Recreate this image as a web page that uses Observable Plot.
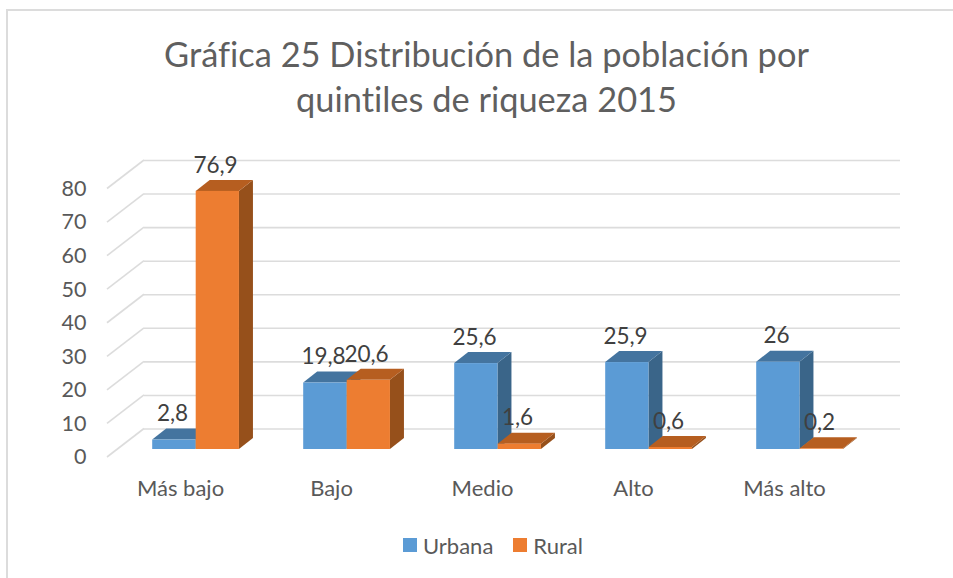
<!DOCTYPE html>
<html lang="es">
<head>
<meta charset="utf-8">
<script src="https://cdn.jsdelivr.net/npm/d3@7"></script>
<script src="https://cdn.jsdelivr.net/npm/@observablehq/plot@0.6"></script>
<style>
html,body{margin:0;padding:0;background:#fff;overflow:hidden;font-family:Lato,sans-serif;font-variant-ligatures:none}
#page{position:relative;width:953px;height:578px;overflow:hidden}
#frame{position:absolute;left:6px;top:9px;width:960px;height:580px;border-top:2px solid #dcdcdc;border-left:2px solid #dcdcdc}
#title{position:absolute;left:0;width:973px;top:31px;text-align:center;font-size:34.4px;line-height:45px;color:#5f5f5f}
#chart{position:absolute;left:0;top:130px}
#chart svg text{font-variant-ligatures:none}
#legend{position:absolute;left:403px;top:532px;display:flex;align-items:center;font-size:22px;color:#595959;height:26px}
#legend i{display:inline-block;width:14px;height:14px;margin-right:6px}
#legend span{margin-right:20px}
</style>
</head>
<body>
<div id="page">
  <div id="frame"></div>
  <div id="title">Gráfica 25 Distribución de la población por<br>quintiles de riqueza 2015</div>
  <div id="chart"></div>
  <div id="legend"><i style="background:#5B9BD5"></i><span>Urbana</span><i style="background:#ED7D31"></i><span>Rural</span></div>
</div>
<script>
const categories = ["Más bajo", "Bajo", "Medio", "Alto", "Más alto"];
const urbana = [2.8, 19.8, 25.6, 25.9, 26];
const rural = [76.9, 20.6, 1.6, 0.6, 0.2];
const yTicks = [0, 10, 20, 30, 40, 50, 60, 70, 80];

const rows = vals => vals.map((v, i) => ({cat: categories[i], v}));
const fmt = d => String(d.v).replace(".", ",");

// Depth of the 3D box drawn behind and above each bar's front face
const barDepth = {x: 14, y: -11};
const wallDepth = {x: 38, y: -28.5};
const plane = {dx: 11.2, dy: -8};
const gridColor = "#dcdcdc";
const svgNS = "http://www.w3.org/2000/svg";

function boxFaces(topColor, sideColor) {
  return function (index, scales, values, dims, ctx, next) {
    const g = next(index, scales, values, dims, ctx);
    for (const r of Array.from(g.querySelectorAll("rect"))) {
      const x = +r.getAttribute("x"), y = +r.getAttribute("y");
      const w = +r.getAttribute("width"), h = +r.getAttribute("height");
      const {x: ax, y: ay} = barDepth;
      const faces = [
        [[[x + w, y], [x + w + ax, y + ay], [x + w + ax, y + h + ay], [x + w, y + h]], sideColor],
        [[[x, y], [x + ax, y + ay], [x + w + ax, y + ay], [x + w, y]], topColor]
      ];
      for (const [pts, fill] of faces) {
        const p = document.createElementNS(svgNS, "polygon");
        p.setAttribute("points", pts.map(q => q.join(",")).join(" "));
        p.setAttribute("fill", fill);
        g.insertBefore(p, r);
      }
    }
    return g;
  };
}

function slantedGrid(index, scales, values, dims) {
  const g = document.createElementNS(svgNS, "g");
  for (const i of index) {
    const l = document.createElementNS(svgNS, "line");
    const y = values.y[i];
    l.setAttribute("x1", dims.marginLeft + 1);
    l.setAttribute("y1", y);
    l.setAttribute("x2", dims.marginLeft + wallDepth.x);
    l.setAttribute("y2", y + wallDepth.y);
    l.setAttribute("stroke", gridColor);
    l.setAttribute("stroke-width", 1.6);
    g.appendChild(l);
  }
  return g;
}

const labelFont = {fontSize: 22.5, fill: "#404040", lineAnchor: "middle"};

const plot = Plot.plot({
  width: 953,
  height: 400,
  marginLeft: 106,
  marginRight: 91,
  marginTop: 58.5,
  marginBottom: 73,
  style: {fontFamily: "Lato, sans-serif", background: "transparent", overflow: "visible"},
  x: {type: "band", domain: categories, padding: 0, label: null},
  y: {domain: [0, 80], label: null},
  marks: [
    Plot.ruleY(yTicks, {stroke: gridColor, strokeWidth: 1.6, dx: wallDepth.x, dy: wallDepth.y}),
    Plot.ruleY(yTicks, {render: slantedGrid}),
    Plot.axisY({ticks: yTicks, tickSize: 0, tickPadding: 20, fontSize: 21.5, color: "#595959", label: null, tickFormat: d => d}),
    Plot.axisX({tickSize: 0, tickPadding: 23, fontSize: 22, color: "#595959", label: null, dx: -2.5}),
    Plot.barY(rows(urbana), {
      x: "cat", y: "v", fill: "#5B9BD5", dx: plane.dx, dy: plane.dy,
      insetLeft: 34, insetRight: 73.75, render: boxFaces("#44749F", "#3A6589")
    }),
    Plot.barY(rows(rural), {
      x: "cat", y: "v", fill: "#ED7D31", dx: plane.dx, dy: plane.dy,
      insetLeft: 77.5, insetRight: 30.25, render: boxFaces("#B65E20", "#96501B")
    }),
    Plot.text(rows(urbana), {x: "cat", y: "v", text: fmt, dx: -10.5, dy: -34, ...labelFont}),
    Plot.text(rows(rural), {x: "cat", y: "v", text: fmt, dx: 32.5, dy: -34, ...labelFont})
  ]
});
document.getElementById("chart").appendChild(plot);
</script>
</body>
</html>
